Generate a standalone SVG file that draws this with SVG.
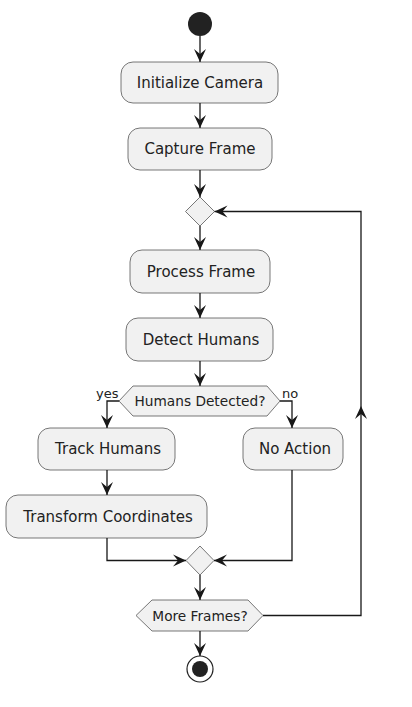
<svg xmlns="http://www.w3.org/2000/svg" width="412" height="707" viewBox="0 0 412 707">
<defs>
<style>
.box{fill:#F1F1F1;stroke:#555;stroke-width:0.8}
.t{font-family:"DejaVu Sans",sans-serif;font-size:15px;fill:#222;text-anchor:middle}
.h{font-family:"DejaVu Sans",sans-serif;font-size:13.7px;fill:#222;text-anchor:middle}
.s{font-family:"DejaVu Sans",sans-serif;font-size:13px;fill:#222}
.e{fill:none;stroke:#181818;stroke-width:1.3}
</style>
<marker id="ah" markerUnits="userSpaceOnUse" markerWidth="16" markerHeight="16" viewBox="0 0 16 16" refX="13" refY="7" orient="auto">
<path d="M0,1 L13,7 L0,13 L5,7 Z" fill="#181818"/>
</marker>
</defs>
<rect width="412" height="707" fill="#fff"/>
<g id="start"><circle cx="200" cy="24" r="12" fill="#222"/></g>
<g id="init"><rect class="box" x="121" y="62" width="157" height="41" rx="12"/><text class="t" x="200" y="88">Initialize Camera</text></g>
<g id="capture"><rect class="box" x="128" y="128" width="144" height="42" rx="12"/><text class="t" x="200" y="154">Capture Frame</text></g>
<g id="loopmerge"><polygon class="box" points="200,197 214.5,211.5 200,226 185.5,211.5"/></g>
<g id="process"><rect class="box" x="130" y="250" width="140" height="43" rx="12"/><text class="t" x="201" y="277">Process Frame</text></g>
<g id="detect"><rect class="box" x="126" y="318" width="147" height="43" rx="12"/><text class="t" x="201" y="345">Detect Humans</text></g>
<g id="humansDetected"><polygon class="box" points="119,401 133,386 267,386 280,401 267,416 133,416"/><text class="h" x="200" y="406">Humans Detected?</text>
<text class="s" x="96" y="398">yes</text><text class="s" x="282" y="398">no</text></g>
<g id="track"><rect class="box" x="38" y="428" width="137" height="42" rx="12"/><text class="t" x="108" y="454">Track Humans</text></g>
<g id="noaction"><rect class="box" x="243" y="428" width="100" height="42" rx="12"/><text class="t" x="295" y="454">No Action</text></g>
<g id="transform"><rect class="box" x="6" y="495" width="201" height="43" rx="12"/><text class="t" x="108" y="522">Transform Coordinates</text></g>
<g id="merge"><polygon class="box" points="200,546 214,560.5 200,575 186,560.5"/></g>
<g id="moreFrames"><polygon class="box" points="136,615.5 152,600 248,600 263,615.5 248,631 152,631"/><text class="h" x="200" y="620.5">More Frames?</text></g>
<g id="end"><circle cx="200" cy="669" r="13" fill="#fff" stroke="#222" stroke-width="1.2"/><circle cx="200" cy="669" r="8" fill="#222"/></g>
<g id="connectors">
<path class="e" d="M200,36 V62" marker-end="url(#ah)"/>
<path class="e" d="M200,103 V128" marker-end="url(#ah)"/>
<path class="e" d="M200,170 V197" marker-end="url(#ah)"/>
<path class="e" d="M200,226 V250" marker-end="url(#ah)"/>
<path class="e" d="M200,293 V318" marker-end="url(#ah)"/>
<path class="e" d="M200,361 V386" marker-end="url(#ah)"/>
<path class="e" d="M119,401 H107 V428" marker-end="url(#ah)"/>
<path class="e" d="M280,401 H292 V428" marker-end="url(#ah)"/>
<path class="e" d="M107,470 V495" marker-end="url(#ah)"/>
<path class="e" d="M107,538 V560.5 H186" marker-end="url(#ah)"/>
<path class="e" d="M292,470 V560.5 H214" marker-end="url(#ah)"/>
<path class="e" d="M200,575 V600" marker-end="url(#ah)"/>
<path class="e" d="M200,631 V656" marker-end="url(#ah)"/>
<path class="e" d="M263,615.5 H361 V406" marker-end="url(#ah)"/>
<path class="e" d="M361,406 V211.5 H214.5" marker-end="url(#ah)"/>
</g>
</svg>
